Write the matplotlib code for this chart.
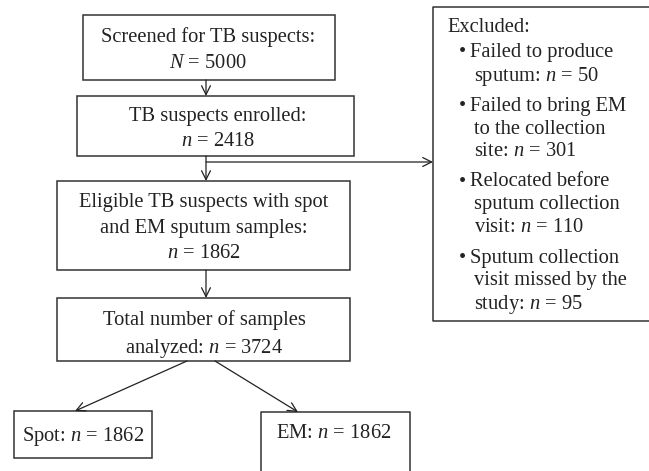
import matplotlib.pyplot as plt
from matplotlib.patches import Rectangle

# counts shown in the flow chart
screened = 5000
enrolled = 2418
eligible = 1862
total_samples = 3724
spot_n = 1862
em_n = 1862
excl_reasons = [["Failed to produce", "sputum: "],
                ["Failed to bring EM", "to the collection", "site: "],
                ["Relocated before", "sputum collection", "visit: "],
                ["Sputum collection", "visit missed by the", "study: "]]
excl_counts = [50, 301, 110, 95]

plt.rcParams['font.family'] = ['Liberation Serif', 'DejaVu Serif']
plt.rcParams['mathtext.fontset'] = 'custom'
plt.rcParams['mathtext.rm'] = 'Liberation Serif'
plt.rcParams['mathtext.it'] = 'Liberation Serif:italic'

FS = 14.8
EC = '#333333'

fig = plt.figure(figsize=(6.49, 4.71), dpi=100)
ax = fig.add_axes([0, 0, 1, 1])
ax.set_xlim(0, 649)
ax.set_ylim(471, 0)
ax.axis('off')


def box(x0, y0, x1, y1):
    ax.add_patch(Rectangle((x0, y0), x1 - x0, y1 - y0, fill=False,
                           ec=EC, lw=1.1, clip_on=False))


def lines(xc, ys, texts, ha='center', fs=FS):
    for y, t in zip(ys, texts):
        ax.text(xc, y + 2, t, ha=ha, va='center', fontsize=fs,
                color='#222222')


def arrow(x0, y0, x1, y1):
    ax.annotate('', xy=(x1, y1), xytext=(x0, y0),
                arrowprops=dict(arrowstyle='->', lw=0.9, color='#222222',
                                mutation_scale=16, shrinkA=0, shrinkB=0))


# main column
box(83, 15, 335, 80)
lines(208, [35, 62], ["Screened for TB suspects:", "$N$ = %d" % screened])

box(77, 96, 354, 156)
lines(218, [115, 140], ["TB suspects enrolled:", "$n$ = %d" % enrolled])

box(57, 181, 350, 270)
lines(204, [200, 227, 252], ["Eligible TB suspects with spot",
                             "and EM sputum samples:", "$n$ = %d" % eligible])

box(57, 298, 350, 361)
lines(204, [318, 346], ["Total number of samples",
                        "analyzed: $n$ = %d" % total_samples])

box(14, 411, 152, 458)
lines(83, [434], ["Spot: $n$ = %d" % spot_n])

ax.plot([261, 261, 410, 410], [480, 412, 412, 480], color=EC, lw=1.1,
        clip_on=True)
lines(334, [431], ["EM: $n$ = %d" % em_n])

# arrows
arrow(206, 80, 206, 96)
arrow(206, 156, 206, 181)
arrow(206, 162, 433, 162)
arrow(206, 270, 206, 298)
arrow(187, 361, 75, 411)
arrow(215, 361, 298, 412)

# excluded box
ax.plot([660, 433, 433, 660], [7, 7, 321, 321], color=EC, lw=1.1)
lines(447, [25], ["Excluded:"], ha='left')
starts = [51, 104, 180, 256]
for y0, reason, cnt in zip(starts, excl_reasons, excl_counts):
    ax.text(459, y0 + 2, u"\u2022", ha='left', va='center', fontsize=FS,
            color='#222222')
    txt = list(reason)
    txt[-1] = txt[-1] + "$n$ = %d" % cnt
    ys = [y0 + 23 * i for i in range(len(txt))]
    lines(470, ys[:1], txt[:1], ha='left')
    lines(474, ys[1:], txt[1:], ha='left')

fig.savefig('out.png', dpi=100)
